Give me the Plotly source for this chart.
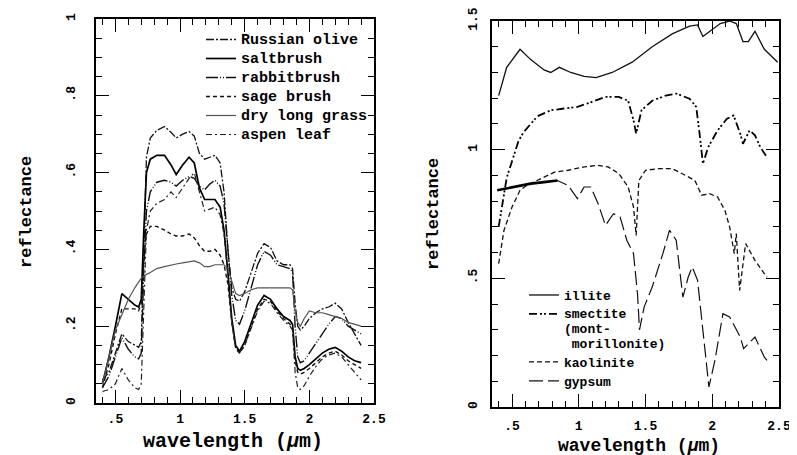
import plotly.graph_objects as go

# ---------------- Left panel: vegetation spectra ----------------
veg_wl = [0.40, 0.45, 0.50, 0.55, 0.60, 0.65, 0.68, 0.70, 0.72, 0.74,
          0.77, 0.82, 0.88, 0.93, 0.97, 1.02, 1.07, 1.11, 1.15, 1.19,
          1.23, 1.27, 1.31, 1.34, 1.37, 1.40, 1.43, 1.46, 1.50, 1.55,
          1.60, 1.65, 1.70, 1.75, 1.80, 1.85, 1.87, 1.89, 1.91, 1.93,
          1.96, 2.00, 2.05, 2.10, 2.15, 2.20, 2.25, 2.30, 2.35, 2.40]

russian_olive = [0.06, 0.08, 0.13, 0.18, 0.16, 0.15, 0.145, 0.16, 0.40, 0.64,
                 0.69, 0.71, 0.72, 0.705, 0.69, 0.70, 0.707, 0.695, 0.65, 0.635,
                 0.64, 0.645, 0.625, 0.55, 0.40, 0.30, 0.27, 0.265, 0.29, 0.34,
                 0.39, 0.415, 0.405, 0.37, 0.36, 0.36, 0.35, 0.26, 0.20, 0.19,
                 0.20, 0.22, 0.235, 0.245, 0.25, 0.26, 0.245, 0.21, 0.18, 0.15]

saltbrush = [0.05, 0.12, 0.20, 0.285, 0.27, 0.255, 0.25, 0.27, 0.45, 0.60,
             0.635, 0.645, 0.645, 0.62, 0.595, 0.62, 0.64, 0.625, 0.56, 0.53,
             0.53, 0.53, 0.51, 0.45, 0.34, 0.22, 0.15, 0.135, 0.16, 0.21,
             0.255, 0.28, 0.27, 0.245, 0.225, 0.215, 0.205, 0.12, 0.09, 0.085,
             0.09, 0.10, 0.115, 0.13, 0.14, 0.145, 0.135, 0.12, 0.11, 0.105]

rabbitbrush = [0.04, 0.07, 0.12, 0.17, 0.14, 0.12, 0.115, 0.13, 0.35, 0.50,
               0.55, 0.575, 0.58, 0.575, 0.565, 0.58, 0.59, 0.585, 0.565, 0.555,
               0.57, 0.58, 0.565, 0.52, 0.40, 0.28, 0.215, 0.205, 0.24, 0.30,
               0.36, 0.395, 0.385, 0.36, 0.355, 0.35, 0.34, 0.20, 0.12, 0.105,
               0.11, 0.13, 0.155, 0.18, 0.205, 0.225, 0.22, 0.20, 0.19, 0.18]

sage_brush = [0.04, 0.10, 0.18, 0.245, 0.245, 0.245, 0.24, 0.26, 0.38, 0.44,
              0.46, 0.46, 0.45, 0.44, 0.435, 0.435, 0.44, 0.43, 0.41, 0.395,
              0.395, 0.40, 0.385, 0.36, 0.31, 0.21, 0.145, 0.13, 0.15, 0.20,
              0.245, 0.27, 0.265, 0.24, 0.22, 0.205, 0.195, 0.11, 0.08, 0.075,
              0.08, 0.09, 0.105, 0.12, 0.13, 0.135, 0.125, 0.11, 0.10, 0.09]

dry_long_grass = [0.05, 0.12, 0.19, 0.23, 0.27, 0.30, 0.315, 0.325, 0.33, 0.335,
                  0.34, 0.35, 0.355, 0.36, 0.362, 0.365, 0.368, 0.37, 0.365, 0.355,
                  0.355, 0.36, 0.36, 0.36, 0.35, 0.32, 0.285, 0.28, 0.285, 0.295,
                  0.30, 0.30, 0.30, 0.30, 0.30, 0.30, 0.295, 0.24, 0.21, 0.20,
                  0.22, 0.24, 0.235, 0.235, 0.23, 0.225, 0.22, 0.21, 0.205, 0.20]

aspen_leaf = [0.03, 0.035, 0.05, 0.09, 0.06, 0.04, 0.035, 0.05, 0.25, 0.45,
              0.50, 0.52, 0.53, 0.55, 0.535, 0.56, 0.585, 0.60, 0.55, 0.50,
              0.505, 0.51, 0.49, 0.44, 0.33, 0.21, 0.14, 0.13, 0.15, 0.195,
              0.24, 0.265, 0.26, 0.235, 0.215, 0.20, 0.19, 0.08, 0.04, 0.035,
              0.045, 0.07, 0.095, 0.115, 0.125, 0.13, 0.12, 0.10, 0.08, 0.06]

veg_names = ["Russian olive", "saltbrush", "rabbitbrush", "sage brush",
             "dry long grass", "aspen leaf"]

# ---------------- Right panel: mineral spectra ----------------
illite_wl = [0.40, 0.46, 0.56, 0.64, 0.74, 0.79, 0.855, 0.94, 1.04, 1.13,
             1.25, 1.40, 1.55, 1.70, 1.83, 1.89, 1.93, 1.98, 2.06, 2.13,
             2.18, 2.23, 2.27, 2.32, 2.39, 2.49]
illite = [1.21, 1.32, 1.39, 1.35, 1.31, 1.30, 1.32, 1.30, 1.285, 1.28,
          1.30, 1.34, 1.40, 1.45, 1.48, 1.485, 1.44, 1.46, 1.49, 1.50,
          1.49, 1.42, 1.42, 1.46, 1.39, 1.34]

smectite_wl = [0.40, 0.46, 0.55, 0.59, 0.69, 0.79, 0.89, 0.99, 1.095, 1.20,
               1.30, 1.37, 1.41, 1.43, 1.47, 1.55, 1.65, 1.73, 1.83, 1.88,
               1.905, 1.93, 1.97, 2.04, 2.11, 2.16, 2.21, 2.23, 2.28, 2.32,
               2.36, 2.41]
smectite = [0.70, 0.89, 1.036, 1.07, 1.13, 1.153, 1.16, 1.166, 1.185, 1.205,
            1.205, 1.19, 1.114, 1.062, 1.153, 1.19, 1.21, 1.218, 1.198, 1.166,
            1.062, 0.946, 1.01, 1.075, 1.12, 1.133, 1.062, 1.023, 1.075, 1.056,
            1.01, 0.97]

kaolinite_wl = [0.40, 0.44, 0.50, 0.56, 0.61, 0.715, 0.82, 0.92, 1.04, 1.145,
                1.22, 1.30, 1.37, 1.41, 1.43, 1.45, 1.50, 1.60, 1.70, 1.80,
                1.87, 1.92, 1.98, 2.04, 2.095, 2.13, 2.165, 2.18, 2.205, 2.25,
                2.32, 2.39, 2.41]
kaolinite = [0.557, 0.687, 0.777, 0.842, 0.861, 0.887, 0.913, 0.92, 0.933, 0.939,
             0.933, 0.907, 0.855, 0.777, 0.667, 0.88, 0.92, 0.926, 0.926, 0.90,
             0.88, 0.823, 0.829, 0.816, 0.764, 0.70, 0.596, 0.674, 0.453, 0.635,
             0.57, 0.518, 0.505]

gypsum_wl = [0.39, 0.51, 0.64, 0.74, 0.84, 0.92, 0.99, 1.04, 1.09, 1.145,
             1.20, 1.26, 1.31, 1.36, 1.41, 1.44, 1.455, 1.49, 1.55, 1.63,
             1.68, 1.73, 1.78, 1.82, 1.85, 1.89, 1.93, 1.975, 2.02, 2.08,
             2.13, 2.21, 2.235, 2.285, 2.32, 2.39, 2.41]
gypsum = [0.842, 0.855, 0.868, 0.874, 0.88, 0.861, 0.81, 0.855, 0.855, 0.79,
          0.706, 0.751, 0.738, 0.648, 0.596, 0.44, 0.30, 0.389, 0.466, 0.596,
          0.687, 0.648, 0.427, 0.505, 0.544, 0.492, 0.285, 0.078, 0.181, 0.363,
          0.35, 0.272, 0.227, 0.253, 0.272, 0.194, 0.181]
gypsum_bold_points = 5  # first points drawn as a heavy solid segment

mineral_names = ["illite", "smectite<br>(mont-<br> morillonite)", "kaolinite", "gypsum"]

x_ticks = [0.5, 1.0, 1.5, 2.0, 2.5]
x_ticktext = [".5", "1", "1.5", "2", "2.5"]
left_y_ticks = [0, 0.2, 0.4, 0.6, 0.8, 1.0]
left_y_ticktext = ["0", ".2", ".4", ".6", ".8", "1"]
right_y_ticks = [0, 0.5, 1.0, 1.5]
right_y_ticktext = ["0", ".5", "1", "1.5"]

FONT = "Liberation Mono"
OFF = 8                    # page body margin of the written html
W, H = 797 - OFF, 455 - OFF


def legend_label(text, size):
    lines = text.split("<br>")
    return "<br>".join(f"<span style='font-size:{size}px'>{ln}</span>" for ln in lines)


fig = go.Figure()

veg_series = [russian_olive, saltbrush, rabbitbrush, sage_brush, dry_long_grass, aspen_leaf]
veg_styles = [
    dict(color="#111", width=1.3, dash="8px,2px,2px,2px"),
    dict(color="#000", width=1.7, dash="solid"),
    dict(color="#111", width=1.4, dash="12px,2px,1px,2px,1px,2px"),
    dict(color="#111", width=1.4, dash="4px,3px"),
    dict(color="#555", width=1.2, dash="solid"),
    dict(color="#222", width=1.2, dash="6px,3px,2px,3px"),
]
for name, ys, st in zip(veg_names, veg_series, veg_styles):
    fig.add_trace(go.Scatter(x=veg_wl, y=ys, mode="lines", name=legend_label(name, 15),
                             line=st, xaxis="x", yaxis="y", legend="legend"))

min_x = [illite_wl, smectite_wl, kaolinite_wl, gypsum_wl]
min_y = [illite, smectite, kaolinite, gypsum]
min_styles = [
    dict(color="#111", width=1.3, dash="solid"),
    dict(color="#000", width=1.8, dash="8px,3px,2px,2px,2px,3px"),
    dict(color="#111", width=1.3, dash="5px,3px"),
    dict(color="#111", width=1.2, dash="14px,5px"),
]
for name, xs, ys, st in zip(mineral_names, min_x, min_y, min_styles):
    fig.add_trace(go.Scatter(x=xs, y=ys, mode="lines", name=legend_label(name, 13),
                             line=st, xaxis="x2", yaxis="y2", legend="legend2"))
fig.add_trace(go.Scatter(x=gypsum_wl[:gypsum_bold_points], y=gypsum[:gypsum_bold_points],
                         mode="lines", showlegend=False,
                         line=dict(color="#000", width=2.6),
                         xaxis="x2", yaxis="y2"))

def px_x(p):
    return (p - OFF) / W

def px_y(p):
    return 1 - (p - OFF) / H

axis_common = dict(showline=True, linecolor="black", linewidth=1.5, mirror="ticks",
                   ticks="inside", ticklen=13, tickwidth=1.3, tickcolor="black",
                   showgrid=False, zeroline=False, automargin=False,
                   ticklabeloverflow="allow",
                   tickfont=dict(family=FONT, size=13, color="black", weight="bold"))
minor_x = dict(dtick=0.1, tick0=0, ticks="inside", ticklen=6, tickcolor="black", tickwidth=1.2)

fig.update_layout(
    width=W, height=H, paper_bgcolor="white", plot_bgcolor="white",
    margin=dict(l=0, r=0, t=0, b=0, autoexpand=False),
    font=dict(family=FONT, color="black"),
    xaxis=dict(domain=[px_x(96), px_x(374)], range=[0.35, 2.5], anchor="y",
               tickvals=x_ticks, ticktext=x_ticktext, ticklabelstandoff=3,
               minor=minor_x, **axis_common),
    yaxis=dict(domain=[px_y(403), px_y(19)], range=[0, 1], anchor="x",
               tickvals=left_y_ticks, ticktext=left_y_ticktext, tickangle=-90,
               ticklabelstandoff=14,
               minor=dict(dtick=0.05, tick0=0, ticks="inside", ticklen=6, tickcolor="black", tickwidth=1.2),
               **axis_common),
    xaxis2=dict(domain=[px_x(492), px_x(779)], range=[0.35, 2.5], anchor="y2",
                tickvals=x_ticks, ticktext=x_ticktext, ticklabelstandoff=6,
                minor=minor_x, **axis_common),
    yaxis2=dict(domain=[px_y(407), px_y(21)], range=[0, 1.5], anchor="x2",
                tickvals=right_y_ticks, ticktext=right_y_ticktext, tickangle=-90,
                ticklabelstandoff=8,
                minor=dict(dtick=0.1, tick0=0, ticks="inside", ticklen=6, tickcolor="black", tickwidth=1.2),
                **axis_common),
    legend=dict(x=px_x(201), y=px_y(25), xanchor="left", yanchor="top",
                bgcolor="rgba(0,0,0,0)", borderwidth=0, tracegroupgap=0,
                font=dict(family=FONT, size=12, color="black", weight="bold"), itemwidth=30),
    legend2=dict(x=px_x(524), y=px_y(281), xanchor="left", yanchor="top",
                 bgcolor="rgba(0,0,0,0)", borderwidth=0, tracegroupgap=0, valign="top",
                 font=dict(family=FONT, size=11.5, color="black", weight="bold"), itemwidth=30),
    annotations=[
        dict(text="wavelength (<i>μ</i>m)", x=px_x(233), y=px_y(441), xref="paper", yref="paper",
             xanchor="center", yanchor="middle", showarrow=False,
             font=dict(family=FONT, size=20, color="black", weight="bold")),
        dict(text="wavelength (<i>μ</i>m)", x=px_x(639), y=px_y(446), xref="paper", yref="paper",
             xanchor="center", yanchor="middle", showarrow=False,
             font=dict(family=FONT, size=18, color="black", weight="bold")),
        dict(text="reflectance", x=px_x(26), y=px_y(212), xref="paper", yref="paper",
             xanchor="center", yanchor="middle", showarrow=False, textangle=-90,
             font=dict(family=FONT, size=17, color="black", weight="bold")),
        dict(text="reflectance", x=px_x(433), y=px_y(214), xref="paper", yref="paper",
             xanchor="center", yanchor="middle", showarrow=False, textangle=-90,
             font=dict(family=FONT, size=17, color="black", weight="bold")),
    ],
)

fig.write_html("out.html")
